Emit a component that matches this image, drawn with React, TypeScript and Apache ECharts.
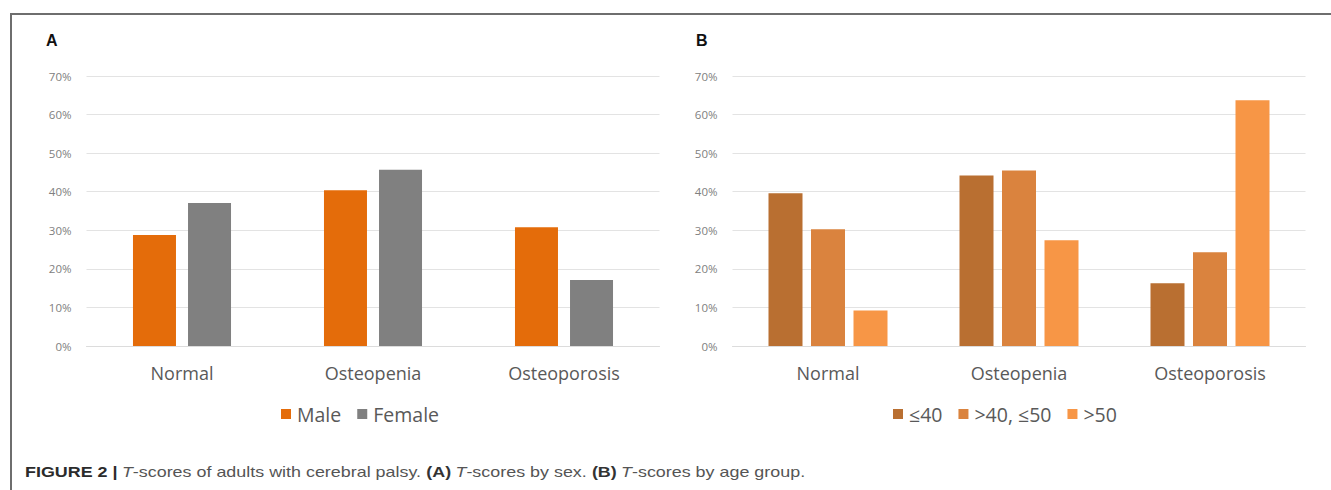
import React, { useEffect, useRef } from "react";
import * as echarts from "echarts";

const categories = ["Normal", "Osteopenia", "Osteoporosis"];
const maleValues = [28.8, 40.4, 30.8];
const femaleValues = [37.1, 45.7, 17.1];
const ageUpTo40 = [39.6, 44.2, 16.3];
const age40to50 = [30.3, 45.5, 24.3];
const ageOver50 = [9.2, 27.4, 63.7];
const seriesNamesA = ["Male", "Female"];
const seriesNamesB = ["≤40", ">40, ≤50", ">50"];

const FONT = "'Open Sans', 'Noto Sans', sans-serif";
const CAP_FONT = "'Liberation Sans', Arial, sans-serif";

function yAxis(gridIndex: number) {
  return {
    type: "value",
    gridIndex,
    min: 0,
    max: 70,
    interval: 10,
    axisLine: { show: false },
    axisTick: { show: false },
    axisLabel: {
      formatter: "{value}%",
      color: "#808080",
      fontSize: 11.5,
      fontFamily: FONT,
      margin: 15,
    },
    splitLine: { lineStyle: { color: "#e3e3e3", width: 1 } },
  };
}

function xAxis(gridIndex: number) {
  return {
    type: "category",
    gridIndex,
    data: categories,
    axisLine: { show: true, lineStyle: { color: "#dcdcdc", width: 1 } },
    axisTick: { show: false },
    axisLabel: {
      color: "#595959",
      fontSize: 18,
      fontFamily: FONT,
      margin: 18,
    },
  };
}

function legend(data: string[], left: number) {
  return {
    data,
    left,
    top: 404,
    padding: 0,
    icon: "rect",
    itemWidth: 10,
    itemHeight: 10,
    itemGap: 16,
    textStyle: { color: "#595959", fontSize: 19.5, fontFamily: FONT, padding: [0, 0, 0, 1] },
  };
}

export default function App() {
  const ref = useRef<HTMLDivElement>(null);
  useEffect(() => {
    if (!ref.current) return;
    const chart = echarts.init(ref.current, null, { renderer: "svg" });
    const option = {
      animation: false,
      backgroundColor: "#ffffff",
      grid: [
        { left: 86.5, right: 671.5, top: 76, bottom: 144 },
        { left: 732.5, right: 25.5, top: 76, bottom: 144 },
      ],
      xAxis: [xAxis(0), xAxis(1)],
      yAxis: [yAxis(0), yAxis(1)],
      legend: [legend(seriesNamesA, 281), legend(seriesNamesB, 893)],
      series: [
        {
          name: seriesNamesA[0],
          type: "bar",
          xAxisIndex: 0,
          yAxisIndex: 0,
          data: maleValues,
          barWidth: 43,
          barGap: "28%",
          itemStyle: { color: "#e46c0a" },
        },
        {
          name: seriesNamesA[1],
          type: "bar",
          xAxisIndex: 0,
          yAxisIndex: 0,
          data: femaleValues,
          barWidth: 43,
          barGap: "28%",
          itemStyle: { color: "#808080" },
        },
        {
          name: seriesNamesB[0],
          type: "bar",
          xAxisIndex: 1,
          yAxisIndex: 1,
          data: ageUpTo40,
          barWidth: 34,
          barGap: "25%",
          itemStyle: { color: "#b96f31" },
        },
        {
          name: seriesNamesB[1],
          type: "bar",
          xAxisIndex: 1,
          yAxisIndex: 1,
          data: age40to50,
          barWidth: 34,
          barGap: "25%",
          itemStyle: { color: "#da833e" },
        },
        {
          name: seriesNamesB[2],
          type: "bar",
          xAxisIndex: 1,
          yAxisIndex: 1,
          data: ageOver50,
          barWidth: 34,
          barGap: "25%",
          itemStyle: { color: "#f79646" },
        },
      ],
      graphic: [
        {
          type: "line",
          shape: { x1: 10, y1: 14, x2: 1331, y2: 14 },
          style: { stroke: "#6e6e6e", lineWidth: 2 },
        },
        {
          type: "line",
          shape: { x1: 11, y1: 13, x2: 11, y2: 490 },
          style: { stroke: "#6e6e6e", lineWidth: 2 },
        },
        {
          type: "text",
          x: 46,
          y: 32,
          style: {
            text: "A",
            fill: "#111111",
            font: "bold 16px 'Liberation Sans', Arial, sans-serif",
          },
        },
        {
          type: "text",
          x: 696,
          y: 32,
          style: {
            text: "B",
            fill: "#111111",
            font: "bold 16px 'Liberation Sans', Arial, sans-serif",
          },
        },
        {
          type: "text",
          x: 25,
          y: 465,
          scaleX: 1.28,
          style: {
            text:
              "{b|FIGURE 2 |} {i|T}{n|-scores of adults with cerebral palsy. }{b2|(A)} {i|T}{n|-scores by sex. }{b2|(B)} {i|T}{n|-scores by age group.}",
            rich: {
              b: { fontFamily: CAP_FONT, fontWeight: "bold", fontSize: 14, fill: "#2b2b2b" },
              b2: { fontFamily: CAP_FONT, fontWeight: "bold", fontSize: 14, fill: "#333333" },
              i: { fontFamily: CAP_FONT, fontStyle: "italic", fontSize: 14, fill: "#555555" },
              n: { fontFamily: CAP_FONT, fontSize: 14, fill: "#555555" },
            },
          },
        },
      ],
    };
    chart.setOption(option as any);
    return () => chart.dispose();
  }, []);
  return (
    <div
      ref={ref}
      style={{ position: "absolute", left: 0, top: 0, width: 1331, height: 490 }}
    />
  );
}
